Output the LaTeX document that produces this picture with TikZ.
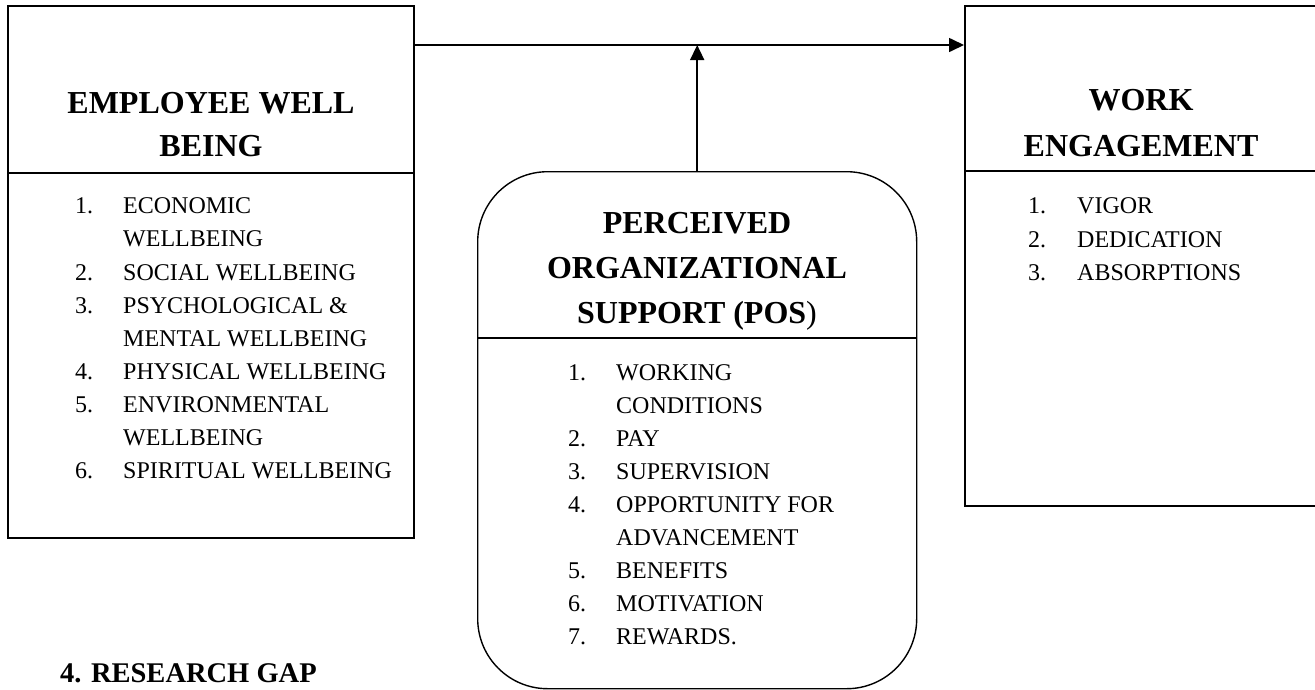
\documentclass[tikz,border=0pt]{standalone}
\usepackage{fontspec}
\setmainfont{Liberation Serif}
\usetikzlibrary{arrows.meta}
\begin{document}
\begin{tikzpicture}[x=1pt,y=-1pt,
  box/.style={draw, line width=1.6pt, inner sep=0pt, anchor=north west},
  title/.style={font=\fontsize{32}{45}\selectfont\bfseries, anchor=base, inner sep=0pt},
  item/.style={font=\fontsize{24}{33}\selectfont, anchor=base west, inner sep=0pt},
  conn/.style={line width=1.6pt, -{Triangle[length=15pt,width=14pt]}},
  divider/.style={line width=1.6pt}
]
\useasboundingbox (0,0) rectangle (1315,689);

% boxes
\node[box, minimum width=406pt, minimum height=532pt] (ewb) at (7,5) {};
\node[box, minimum width=354pt, minimum height=500pt] (we) at (964,5) {};
\node[box, rounded corners=70pt, line width=1.4pt, minimum width=439pt, minimum height=517pt] (pos) at (477,171) {};

% dividers
\draw[divider] (7,173) -- (413,173);
\draw[divider] (964,171) -- (1318,171);
\draw[divider] (477,338) -- (916,338);

% connectors
\coordinate (j) at (pos.north |- 0,45);
\draw[conn] (ewb.east |- j) -- (we.west |- j);
\draw[conn] (pos.north) -- (j);

% titles
\node[title] (t1a) at (211,113) {EMPLOYEE WELL};
\node[title] (t1b) at (211,156) {BEING};
\node[title] (t2a) at (1141,110) {WORK};
\node[title] (t2b) at (1141,156) {ENGAGEMENT};
\node[title] (t3a) at (697,233) {PERCEIVED};
\node[title] (t3b) at (697,278) {ORGANIZATIONAL};
\node[title] (t3c) at (697,323) {SUPPORT (POS\textmd{)}};

% left list
\foreach \yy/\lbl [count=\i] in {213/1., 280/2., 313/3., 379/4., 412/5., 478/6.}
  \node[item] (ln\i) at (75,\yy) {\lbl};
\foreach \yy/\txt [count=\i] in {213/ECONOMIC, 246/WELLBEING, 280/SOCIAL WELLBEING, 313/PSYCHOLOGICAL \&, 346/MENTAL WELLBEING, 379/PHYSICAL WELLBEING, 412/ENVIRONMENTAL, 445/WELLBEING, 478/SPIRITUAL WELLBEING}
  \node[item] (lt\i) at (123,\yy) {\txt};

% right list
\foreach \yy/\lbl/\txt [count=\i] in {213/1./VIGOR, 247/2./DEDICATION, 280/3./ABSORPTIONS}
  {\node[item] (rn\i) at (1028,\yy) {\lbl};
   \node[item] (rt\i) at (1077,\yy) {\txt};}

% centre list
\foreach \yy/\lbl [count=\i] in {380/1., 446/2., 479/3., 512/4., 578/5., 611/6., 644/7.}
  \node[item] (cn\i) at (568,\yy) {\lbl};
\foreach \yy/\txt [count=\i] in {380/WORKING, 413/CONDITIONS, 446/PAY, 479/SUPERVISION, 512/OPPORTUNITY FOR, 545/ADVANCEMENT, 578/BENEFITS, 611/MOTIVATION, 644/REWARDS.}
  \node[item] (ct\i) at (616,\yy) {\txt};

% heading below
\node[font=\fontsize{28.5}{30}\selectfont\bfseries, anchor=base west, inner sep=0pt] (rg) at (60,682) {4. RESEARCH GAP};
\end{tikzpicture}
\end{document}
